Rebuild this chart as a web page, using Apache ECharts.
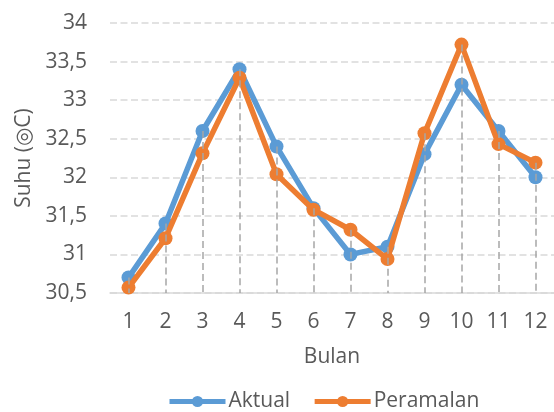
<!DOCTYPE html>
<html><head><meta charset="utf-8">
<script src="https://cdn.jsdelivr.net/npm/echarts@6/dist/echarts.min.js"></script>
<style>html,body{margin:0;padding:0;background:#fff}#c{width:554px;height:412px}</style>
</head><body><div id="c"></div>
<script>
const categories = ['1','2','3','4','5','6','7','8','9','10','11','12'];
const aktual = [30.7, 31.4, 32.6, 33.4, 32.4, 31.6, 31.0, 31.1, 32.3, 33.2, 32.6, 32.0];
const peramalan = [30.57, 31.21, 32.31, 33.29, 32.04, 31.58, 31.32, 30.94, 32.57, 33.72, 32.43, 32.19];
const yMin = 30.5, yMax = 34, yStep = 0.5;

const font = '"Open Sans", "DejaVu Sans", sans-serif';
const dropLines = categories.map((c, i) => [
  {coord: [i, Math.max(aktual[i], peramalan[i])]},
  {coord: [i, yMin]}
]);

const chart = echarts.init(document.getElementById('c'));
chart.setOption({
  animation: false,
  grid: {left: 110, right: -4, top: 23, bottom: 119},
  legend: {
    left: 167, top: 391, padding: 0, itemWidth: 56, itemHeight: 14, itemGap: 22,
    lineStyle: {width: 5},
    textStyle: {fontFamily: font, fontSize: 21, color: '#595959', padding: [0,0,0,-2]},
    data: ['Aktual', 'Peramalan']
  },
  xAxis: {
    type: 'category', data: categories, boundaryGap: true,
    name: 'Bulan', nameLocation: 'middle', nameGap: 54,
    nameTextStyle: {fontFamily: font, fontSize: 21, color: '#595959'},
    axisLine: {lineStyle: {color: '#D9D9D9', width: 1.5}},
    axisTick: {show: false},
    axisLabel: {fontFamily: font, fontSize: 21, color: '#595959', margin: 19}
  },
  yAxis: {
    type: 'value', min: yMin, max: yMax, interval: yStep,
    name: 'Suhu (◎C)', nameLocation: 'middle', nameGap: 75, nameRotate: 90,
    nameTextStyle: {fontFamily: font, fontSize: 21, color: '#595959'},
    axisLine: {show: false}, axisTick: {show: false},
    axisLabel: {fontFamily: font, fontSize: 21, color: '#595959', margin: 23,
      formatter: v => String(v).replace('.', ',')},
    splitLine: {lineStyle: {color: '#D9D9D9', width: 1.5, type: [7, 3.5]}}
  },
  series: [
    {name: 'Aktual', type: 'line', data: aktual, symbol: 'circle', symbolSize: 14,
      itemStyle: {color: '#5B9BD5'}, lineStyle: {color: '#5B9BD5', width: 5.5}, z: 2},
    {name: 'Peramalan', type: 'line', data: peramalan, symbol: 'circle', symbolSize: 14,
      itemStyle: {color: '#ED7D31'}, lineStyle: {color: '#ED7D31', width: 5.5}, z: 3},
    {name: 'drop', type: 'line', data: [], z: 5,
      markLine: {silent: true, symbol: 'none', label: {show: false},
        lineStyle: {color: '#A6A6A6', width: 1.5, type: [7, 4]}, data: dropLines}}
  ]
});
</script></body></html>
